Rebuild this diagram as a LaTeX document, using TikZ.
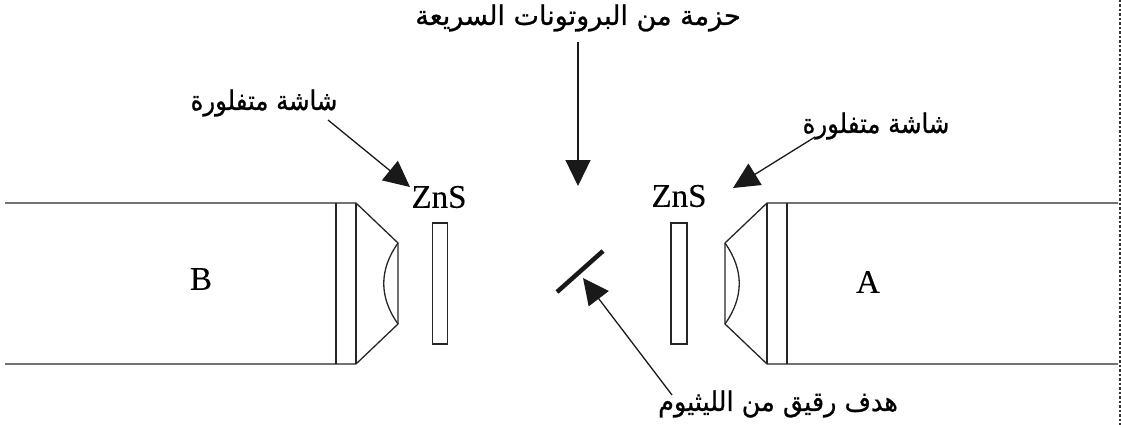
\documentclass[tikz,border=0pt]{standalone}
\usepackage{fontspec}
\setmainfont[FakeBold=0.2]{Liberation Serif}
\newfontfamily\arabicfont[Script=Arabic,FakeBold=0.9]{DejaVu Sans}
\TeXXeTstate=1
\usetikzlibrary{arrows.meta}
\tikzset{
  ln/.style={draw=black!85,line width=1.3pt},
  pointer/.style={draw=black!90,line width=1.3pt,-{Triangle[length=26pt,width=25pt]}},
  lab/.style={inner sep=0pt,font=\fontsize{33}{33}\selectfont},
  ar/.style={inner sep=0pt,font=\arabicfont\fontsize{27}{27}\selectfont},
}
\begin{document}
\begin{tikzpicture}[x=1pt,y=-1pt]
\useasboundingbox (0,0) rectangle (1121,425);
% left detector
\draw[ln] (5,203) -- (356,203) -- (398,243) -- (398,324) -- (356,364) -- (5,364);
\draw[ln] (336,203) -- (336,364);
\draw[ln] (356,203) -- (356,364);
\draw[ln] (398,243) .. controls (379,270) and (379,297) .. (398,324);
\draw[ln] (432.5,223) rectangle (447.5,344);
% right detector
\draw[ln] (1118,203) -- (767,203) -- (725,243) -- (725,324) -- (767,364) -- (1118,364);
\draw[ln] (787,203) -- (787,364);
\draw[ln] (767,203) -- (767,364);
\draw[ln] (725,243) .. controls (744,270) and (744,297) .. (725,324);
\draw[ln] (671,223) rectangle (687,344);
% target
\coordinate (t1) at (557,292);
\coordinate (t2) at (603,251);
\draw[line width=4.5pt,black!90] (t1) -- (t2);
% dashed margin
\coordinate (d1) at (1120,0);
\coordinate (d2) at (1120,425);
\draw[black!80,line width=1.2pt,dash pattern=on 2.5pt off 2pt] (d1) -- (d2);
% labels
\node[lab] (B) at (201,279) {B};
\node[lab] (A) at (868,282) {A};
\node[lab] (znsl) at (439,197) {ZnS};
\node[lab] (znsr) at (679,196) {ZnS};
\node[ar] (top) at (578,18) {\beginR حزمة من البروتونات السريعة\endR};
\node[ar,xscale=.9] (sl) at (264,103) {\beginR شاشة متفلورة\endR};
\node[ar,xscale=.9] (sr) at (876,126) {\beginR شاشة متفلورة\endR};
\node[ar,xscale=.945] (tg) at (778,404) {\beginR هدف رقيق من الليثيوم\endR};
% arrows
\coordinate (a1) at (578,42);
\coordinate (a1e) at (578,186);
\draw[pointer] (a1) -- (a1e);
\coordinate (a2) at (328,120);
\coordinate (a2e) at (410,187);
\draw[pointer] (a2) -- (a2e);
\coordinate (a3) at (815,137);
\coordinate (a3e) at (733,188);
\draw[pointer] (a3) -- (a3e);
\coordinate (a4) at (672,395);
\coordinate (a4e) at (583,278);
\draw[pointer] (a4) -- (a4e);
\end{tikzpicture}
\end{document}
